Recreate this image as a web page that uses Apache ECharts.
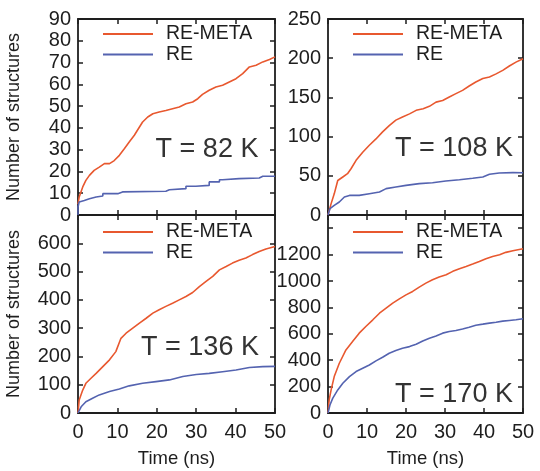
<!DOCTYPE html>
<html>
<head>
<meta charset="utf-8">
<script src="https://cdn.jsdelivr.net/npm/echarts@6/dist/echarts.min.js"></script>
<style>html,body{margin:0;padding:0;background:#fff}#c{width:540px;height:471px}</style>
</head>
<body>
<div id="c"></div>
<script>
// ---- data (time in ns, number of structures) ----
const seriesNames = ['RE-META', 'RE'];
const xTicks = [0, 10, 20, 30, 40, 50];
const tempLabels = ['T = 82 K', 'T = 108 K', 'T = 136 K', 'T = 170 K'];

const meta82 = [[0,5],[0.3,8.3],[1.2,12.9],[2,15.9],[2.9,18.2],[4.1,20.5],[5.4,22],[6.7,23.6],[8,23.6],[9.2,25],[10.5,27.4],[11.8,30.5],[13,33.5],[14.3,36.6],[15.6,40.4],[16.4,42.7],[17.7,45],[19,46.5],[20.6,47.3],[22.3,48],[24,48.8],[25.7,49.6],[27.4,51.1],[29.1,51.9],[30.4,53.4],[31.6,55.4],[33.3,57.3],[35,58.8],[36.7,59.6],[38.4,61.1],[40.1,62.6],[41.8,64.9],[43.5,68],[45.2,68.8],[46.9,70.3],[48.6,71.4],[50,72.6]];
const re82 = [[0,0],[0.3,3.7],[0.8,6],[1.6,6.7],[2.9,7.5],[4.6,8.3],[6.3,8.7],[10.1,9.8],[11.3,10.6],[22.3,10.9],[23.2,11.6],[27.4,12.1],[29.9,13.2],[33.3,13.6],[35.9,15.2],[36.7,16.2],[40.9,16.7],[46,17],[46.9,17.8],[50,17.8]];

const meta108 = [[0,0],[0.8,14.5],[1.6,27],[2.5,44],[3.8,48.5],[5,52.7],[5.9,59],[7.2,69.7],[8.9,80],[10.6,89],[12.3,97],[14,106],[15.7,114],[17.4,121],[19.1,125],[20.9,129],[22.6,133.5],[24.4,135.6],[26,138.6],[27.7,144],[29.4,146],[31.1,150.5],[32.8,154.8],[34.5,159],[36.2,164.5],[37.9,169.6],[39.7,174],[41.4,176],[43.1,180],[44.8,184.5],[46.5,190],[48.2,195],[50,199.4]];
const re108 = [[0,0],[0.5,8],[1.6,12.3],[2.9,16.6],[4.2,23],[5.5,25],[8,25],[10.6,27.2],[13.2,29.3],[14.9,33.6],[17.4,35.7],[20,37.8],[23.4,40],[26.8,41.2],[30.2,43.4],[33.7,45],[37.1,46.8],[39.7,48.5],[41.4,51.9],[43.9,53.6],[47.4,54],[50,53.8]];

const meta136 = [[0,0],[0.3,46],[1.2,81],[2,105],[3.3,123],[4.6,140],[6.3,164],[8,188],[9.6,217],[10.9,264],[12.2,282],[13.9,300],[15.6,318],[17.3,335],[19,353],[20.6,365],[22.3,377],[24,388],[25.7,400],[27.4,412],[29.1,426],[30.8,447],[32.5,465],[34.2,483],[35.9,506],[37.6,518],[39.2,530],[40.9,540],[42.6,548],[44.3,560],[46,571],[47.7,580],[50,589]];
const re136 = [[0,0],[0.8,22],[2,40],[3.7,52],[5.4,64],[8,76],[10.5,85],[13,96],[16.4,105],[19.8,111],[23.2,117],[26.6,129],[30,136],[33.3,140],[36.7,146],[40.1,152],[43.5,161],[46.9,164],[50,165]];

const meta170 = [[0,0],[0.3,99],[0.8,175],[1.6,276],[2.9,377],[4.6,478],[6.3,541],[8,605],[9.7,655],[11.5,706],[13.2,756],[14.9,794],[16.6,832],[18.3,865],[20,895],[21.7,921],[23.4,954],[25.1,984],[26.8,1009],[28.5,1030],[30.3,1047],[32,1073],[33.7,1093],[35.4,1110],[37.1,1128],[38.8,1148],[40.5,1169],[42.2,1186],[44,1199],[45.6,1217],[47.4,1229],[50,1245]];
const re170 = [[0,0],[0.5,61],[1.2,111],[2.5,175],[3.8,225],[5.5,276],[7.2,314],[8.9,339],[10.6,364],[12.3,395],[14,422],[15.7,453],[17.4,473],[19.1,491],[20.9,503],[22.6,521],[24.3,546],[26,567],[27.7,584],[29.4,605],[31.1,617],[32.8,625],[34.5,637],[36.2,650],[37.9,665],[39.7,673],[41.4,681],[43.1,688],[44.8,696],[46.5,701],[48.2,706],[50,714]];

const yMaxes = [90, 250, 700, 1500];
const yIntervals = [10, 50, 100, 200];
const yLabelMax = [90, 250, 600, 1200];   // highest tick label printed on each panel

// ---- layout / styles ----
const FONT = '"Liberation Sans", Arial, sans-serif';
const INK = '#1e1e1e';
const COL_META = '#e8582f';
const COL_RE = '#5463b0';
const grids = [
  {left: 78, top: 19, width: 197, height: 196},
  {left: 328, top: 19, width: 195, height: 196},
  {left: 78, top: 215, width: 197, height: 198},
  {left: 328, top: 215, width: 195, height: 198}
];
const panelData = [[meta82, re82], [meta108, re108], [meta136, re136], [meta170, re170]];

const xAxis = [], yAxis = [], series = [], legend = [], graphic = [];
const lineCommon = {
  axisLine: {show: true, onZero: false, lineStyle: {color: INK, width: 1.8}},
  axisTick: {show: true, inside: true, length: 5, lineStyle: {color: INK, width: 1.5}},
  splitLine: {show: false}
};
grids.forEach((g, i) => {
  const bottomRow = i >= 2;
  const leftCol = i % 2 === 0;
  xAxis.push(Object.assign({
    gridIndex: i, type: 'value', min: xTicks[0], max: xTicks[xTicks.length - 1], interval: xTicks[1] - xTicks[0],
    position: 'bottom',
    axisLabel: {show: bottomRow, fontSize: 20, fontFamily: FONT, color: INK, margin: 9, formatter: v => String(v)},
    name: bottomRow ? 'Time (ns)' : '', nameLocation: 'middle', nameGap: 36,
    nameTextStyle: {fontSize: 18.5, fontFamily: FONT, color: INK}
  }, lineCommon));
  xAxis.push(Object.assign({
    gridIndex: i, type: 'value', min: xTicks[0], max: xTicks[xTicks.length - 1], interval: xTicks[1] - xTicks[0],
    position: 'top', axisLabel: {show: false}
  }, lineCommon));
  const lm = yLabelMax[i];
  yAxis.push(Object.assign({
    gridIndex: i, type: 'value', min: 0, max: yMaxes[i], interval: yIntervals[i], position: 'left',
    axisLabel: {show: true, fontSize: 20, fontFamily: FONT, color: INK, margin: 7,
      formatter: v => (v <= lm ? String(v) : '')},
    name: leftCol ? 'Number of structures' : '', nameLocation: 'middle', nameGap: 55,
    nameTextStyle: {fontSize: 18, fontFamily: FONT, color: INK}
  }, lineCommon));
  yAxis.push(Object.assign({
    gridIndex: i, type: 'value', min: 0, max: yMaxes[i], interval: yIntervals[i], position: 'right',
    axisLabel: {show: false}
  }, lineCommon));
  const [metaD, reD] = panelData[i];
  series.push({
    name: seriesNames[0], type: 'line', xAxisIndex: 2 * i, yAxisIndex: 2 * i, data: metaD,
    showSymbol: false,
    lineStyle: {color: COL_META, width: 1.6}, itemStyle: {color: COL_META}, z: 3
  });
  series.push({
    name: seriesNames[1], type: 'line', xAxisIndex: 2 * i, yAxisIndex: 2 * i, data: reD,
    showSymbol: false, step: i === 0 ? 'start' : false,
    lineStyle: {color: COL_RE, width: 1.6}, itemStyle: {color: COL_RE}, z: 3
  });
  legend.push({
    data: seriesNames, orient: 'vertical', left: g.left + 25, top: bottomRow ? 222 : 24, padding: 0,
    icon: 'rect', itemWidth: 50, itemHeight: 2, itemGap: 0.5,
    textStyle: {fontSize: 19.5, fontFamily: FONT, color: INK, lineHeight: 18, padding: [0, 0, 0, 8]},
    selectedMode: false
  });
});
const labelPos = [[207, 150], [454, 149], [200, 348], [454, 395]];
tempLabels.forEach((t, i) => {
  graphic.push({
    type: 'text', x: labelPos[i][0], y: labelPos[i][1], z: 10,
    style: {text: t, fontSize: 27, fontFamily: FONT, fill: '#333', align: 'center', verticalAlign: 'middle'}
  });
});

const chart = echarts.init(document.getElementById('c'), null, {renderer: 'canvas'});
chart.setOption({
  backgroundColor: '#fff',
  animation: false,
  grid: grids.map(g => Object.assign({show: false}, g)),
  xAxis, yAxis, series, legend, graphic
});
</script>
</body>
</html>
